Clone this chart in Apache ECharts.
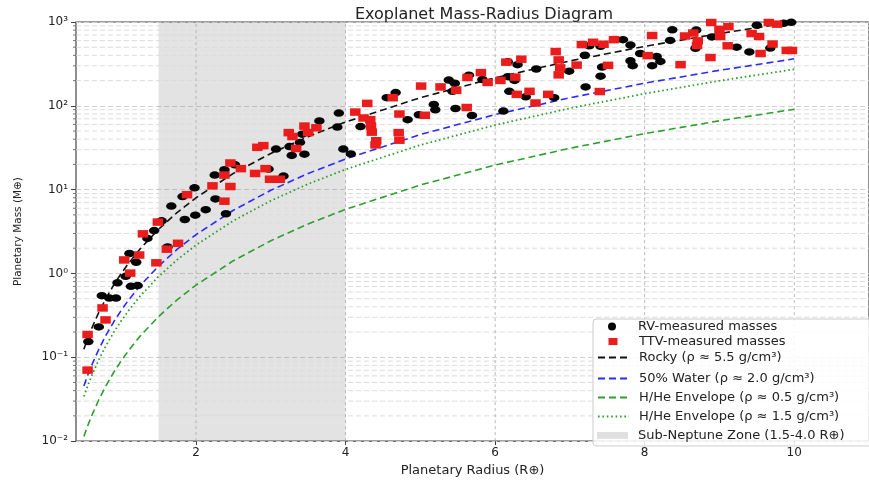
<!DOCTYPE html>
<html>
<head>
<meta charset="utf-8">
<script src="https://cdn.jsdelivr.net/npm/echarts@6/dist/echarts.min.js"></script>
<style>
html,body{margin:0;padding:0;background:#fff;}
#chart{width:869px;height:482px;}
</style>
</head>
<body>
<div id="chart"></div>
<script>
// ---------- data ----------
const xTickValues = [2, 4, 6, 8, 10];
const minorGridValues = [0.02,0.03,0.04,0.05,0.06,0.07,0.08,0.09,
  0.2,0.3,0.4,0.5,0.6,0.7,0.8,0.9,
  2,3,4,5,6,7,8,9,
  20,30,40,50,60,70,80,90,
  200,300,400,500,600,700,800,900];

const modelRadius = [0.5,0.55,0.6,0.7,0.8,0.9,1,1.1,1.25,1.5,1.75,2,2.5,3,3.5,4,5,6,7,8,9,10];
const rockyMass = [0.125,0.166,0.216,0.343,0.512,0.729,1,1.331,1.953,3.375,5.359,8,15.63,27,42.88,64,125,216,343,512,729,1000];
const waterMass = [0.0455,0.0605,0.0785,0.1247,0.1862,0.2651,0.3636,0.484,0.710,1.227,1.949,2.909,5.682,9.818,15.59,23.27,45.45,78.55,124.7,186.2,265.1,363.6];
const hhe05Mass = [0.01136,0.01513,0.01964,0.03118,0.04655,0.06627,0.0909,0.121,0.1776,0.3068,0.4872,0.7273,1.420,2.455,3.898,5.818,11.36,19.64,31.18,46.55,66.27,90.91];
const hhe15Mass = [0.0341,0.0454,0.0589,0.0935,0.1396,0.1988,0.2727,0.363,0.5327,0.9205,1.462,2.182,4.261,7.364,11.69,17.45,34.09,58.91,93.55,139.6,198.8,272.7];

const rvRadius = [0.56,0.70,0.74,0.84,0.93,0.95,1.06,1.13,1.22,1.11,1.20,1.35,1.44,1.54,1.62,1.67,1.85,1.82,1.98,1.99,
  2.13,2.25,2.26,2.38,2.40,2.52,2.97,3.17,3.28,3.07,3.25,3.39,3.42,3.45,3.65,3.89,3.91,3.97,4.07,4.20,
  4.55,4.67,4.83,4.98,5.18,5.20,5.47,5.69,5.38,5.46,5.43,5.65,5.83,6.11,6.19,6.17,6.26,6.30,6.17,6.55,
  6.41,6.79,6.99,7.21,7.20,7.41,7.43,7.26,7.41,7.71,7.81,7.94,7.81,7.84,8.16,8.21,8.10,8.37,8.34,8.69,
  8.68,8.90,9.23,9.40,9.68,9.50,9.86,9.96];
const rvMass = [0.154,0.230,0.543,0.508,0.508,0.774,0.925,0.702,0.716,1.73,1.36,2.62,3.25,4.25,2.07,6.36,4.40,8.26,10.5,4.96,
  5.77,14.9,7.74,17.3,5.16,19.8,17.6,14.5,25.6,30.5,32.6,36.6,45.9,26.5,66.1,55.7,82.0,30.5,26.7,56.5,
  125,144,68.4,78.3,104,89.6,92.9,76.6,203,186,149,232,206,86.5,149,223,201,310,335,275,
  128,125,259,168,401,226,290,520,514,616,531,421,344,301,388,339,301,807,603,800,
  486,664,501,440,488,915,966,990];

const ttvRadius = [0.55,0.55,0.79,0.75,1.04,1.12,1.24,1.47,1.29,1.49,1.61,1.76,1.88,2.22,2.38,2.38,2.46,2.46,2.60,2.82,
  2.90,2.79,2.93,2.99,3.12,3.34,3.24,3.29,3.45,3.50,3.61,4.13,4.29,4.24,4.33,4.34,4.35,4.41,4.40,4.63,
  4.72,4.71,4.72,5.01,5.06,5.27,5.48,5.63,5.81,5.90,6.07,6.15,6.35,6.27,6.29,6.46,6.54,6.71,6.81,6.85,
  6.87,6.85,7.09,7.16,7.31,5.62,7.40,7.51,7.45,7.59,8.10,8.04,8.48,8.54,8.65,8.71,8.70,8.89,8.88,9.00,
  9.01,9.12,9.11,9.43,9.53,9.55,9.71,9.66,9.77,9.90,9.97];
const ttvMass = [0.0703,0.187,0.279,0.388,1.45,1.01,1.66,1.34,2.97,4.10,1.95,2.29,8.71,11.1,7.28,14.9,20.8,10.9,17.8,32.0,
  33.5,15.6,17.8,13.3,13.3,31.0,47.9,43.0,57.3,47.9,54.7,84.2,107,71.6,68.4,57.3,48.5,38.3,34.2,125,
  79.8,47.9,38.9,172,77.1,168,153,218,249,190,201,332,360,220,137,149,108,137,444,353,
  284,234,306,538,573,95.5,148,304,543,616,690,397,310,681,738,595,524,986,377,817,
  671,881,520,728,671,421,546,986,942,458,458];

const zoneRange = [1.5, 4.0];

const names = {
  rv: 'RV-measured masses',
  ttv: 'TTV-measured masses',
  rocky: 'Rocky (ρ ≈ 5.5 g/cm³)',
  water: '50% Water (ρ ≈ 2.0 g/cm³)',
  hhe05: 'H/He Envelope (ρ ≈ 0.5 g/cm³)',
  hhe15: 'H/He Envelope (ρ ≈ 1.5 g/cm³)',
  zone: 'Sub-Neptune Zone (1.5-4.0 R⊕)'
};

// ---------- helpers ----------
const X_MIN = 0.395, X_MAX = 11.0, Y_MIN = 0.01, Y_MAX = 1000;
const zip = (a, b) => a.map((v, i) => [v, b[i]]);
const sup = {'-':'⁻','0':'⁰','1':'¹','2':'²','3':'³','4':'⁴','5':'⁵','6':'⁶','7':'⁷','8':'⁸','9':'⁹'};
const powLabel = e => '10' + String(e).split('').map(c => sup[c]).join('');
const FONT = 'DejaVu Sans';
const LEGEND_FS = 13;

const chart = echarts.init(document.getElementById('chart'), null, {renderer: 'canvas'});

function legendItem(name, cy, opts) {
  return Object.assign({
    data: [{name: name}],
    left: 597, top: cy - 8,
    orient: 'vertical',
    itemWidth: 31, itemHeight: 14,
    padding: 0, itemGap: 0,
    selectedMode: false,
    itemStyle: {opacity: 0},
    textStyle: {fontFamily: FONT, fontSize: LEGEND_FS, color: '#222', padding: [0, 0, 0, 5]},
    z: 10
  }, opts || {});
}

const lineSeries = (name, data, color, type, width) => ({
  name: name, type: 'line', data: zip(modelRadius, data),
  symbol: 'none', showSymbol: false, smooth: false, z: 3,
  lineStyle: {color: color, type: type, width: width},
  itemStyle: {color: color},
  silent: true
});

const gridLineSeries = (name, data, horizontal, color, dash, width) => ({
  name: name, type: 'custom', silent: true, z: 1, clip: true,
  data: data.map(v => [v]),
  renderItem: (params, api) => {
    const v = api.value(0);
    const a = horizontal ? api.coord([X_MIN, v]) : api.coord([v, Y_MIN]);
    const b = horizontal ? api.coord([X_MAX, v]) : api.coord([v, Y_MAX]);
    return {type: 'line', shape: {x1: a[0], y1: a[1], x2: b[0], y2: b[1]},
            style: {stroke: color, lineWidth: width, lineDash: dash}};
  }
});

const option = {
  backgroundColor: '#fff',
  animation: false,
  title: {
    text: 'Exoplanet Mass-Radius Diagram',
    left: 479, top: 2, textAlign: 'center',
    textStyle: {fontFamily: FONT, fontSize: 16, fontWeight: 'normal', color: '#222'}
  },
  grid: {
    left: 76, top: 22, width: 806, bottom: 32,
    show: true, borderColor: '#444', borderWidth: 1.2, backgroundColor: 'transparent'
  },
  xAxis: {
    type: 'value', min: X_MIN, max: X_MAX,
    name: 'Planetary Radius (R⊕)', nameLocation: 'middle', nameGap: 17,
    nameTextStyle: {fontFamily: FONT, fontSize: 13, color: '#222'},
    axisLine: {show: false},
    axisTick: {show: true, length: 4, lineStyle: {color: '#444'}, customValues: xTickValues},
    axisLabel: {fontFamily: FONT, fontSize: 12, color: '#222', margin: 6, customValues: xTickValues},
    splitLine: {show: false}
  },
  yAxis: {
    type: 'log', logBase: 10, min: Y_MIN, max: Y_MAX,
    name: 'Planetary Mass (M⊕)', nameLocation: 'middle', nameGap: 52,
    nameTextStyle: {fontFamily: FONT, fontSize: 10.5, color: '#222'},
    axisLine: {show: false},
    axisTick: {show: true, length: 5, lineStyle: {color: '#444'}},
    axisLabel: {
      fontFamily: FONT, fontSize: 12, color: '#222', margin: 8,
      formatter: v => powLabel(Math.round(Math.log10(v)))
    },
    splitLine: {show: true, lineStyle: {color: '#cfcfcf', type: [5, 3], width: 1}}
  },
  legend: [
    legendItem(names.rv, 328, {left: 608, itemWidth: 10, itemHeight: 8, icon: 'circle', symbolKeepAspect: false,
      itemStyle: {}, textStyle: {fontFamily: FONT, fontSize: LEGEND_FS, color: '#222', padding: [0, 0, 0, 16]}}),
    legendItem(names.ttv, 343, {left: 608.5, itemWidth: 9, itemHeight: 7, icon: 'rect', symbolKeepAspect: false,
      itemStyle: {}, textStyle: {fontFamily: FONT, fontSize: LEGEND_FS, color: '#222', padding: [0, 0, 0, 16.5]}}),
    legendItem(names.rocky, 359),
    legendItem(names.water, 380),
    legendItem(names.hhe05, 399),
    legendItem(names.hhe15, 418),
    legendItem(names.zone, 437, {icon: 'rect', itemHeight: 7, symbolKeepAspect: false, itemStyle: {}})
  ],
  graphic: [{
    type: 'rect', z: 9,
    shape: {x: 593, y: 319, width: 300, height: 127, r: 3},
    style: {fill: 'rgba(255,255,255,0.85)', stroke: '#cccccc', lineWidth: 1}
  }],
  series: [
    gridLineSeries('minor-grid', minorGridValues, true, '#dcdcdc', [5, 3], 1),
    gridLineSeries('x-grid', xTickValues, false, '#a8a8a8', [3, 3], 0.8),
    { // minor ticks on y axis
      name: 'minor-ticks', type: 'custom', clip: false, silent: true, z: 1,
      data: minorGridValues.map(v => [X_MIN, v]),
      renderItem: (params, api) => {
        const p = api.coord([api.value(0), api.value(1)]);
        return {type: 'line', shape: {x1: p[0] - 3, y1: p[1], x2: p[0], y2: p[1]},
                style: {stroke: '#555', lineWidth: 0.8}};
      }
    },
    { // sub-neptune zone
      name: names.zone, type: 'line', data: [], symbol: 'none', z: 1,
      itemStyle: {color: '#e0e0e0'}, lineStyle: {opacity: 0},
      markArea: {
        silent: true,
        itemStyle: {color: 'rgba(128,128,128,0.22)'},
        data: [[{xAxis: zoneRange[0]}, {xAxis: zoneRange[1]}]]
      }
    },
    lineSeries(names.rocky, rockyMass, '#111111', [7, 4], 1.6),
    lineSeries(names.water, waterMass, '#2b2bff', [7, 4], 1.6),
    lineSeries(names.hhe05, hhe05Mass, '#2e9e2e', [7, 4], 1.6),
    lineSeries(names.hhe15, hhe15Mass, '#2e9e2e', [1.6, 2.8], 1.8),
    {
      name: names.rv, type: 'scatter', data: zip(rvRadius, rvMass),
      symbol: 'circle', symbolSize: [10.5, 7.5], z: 4, silent: true,
      itemStyle: {color: '#050505', opacity: 1}
    },
    {
      name: names.ttv, type: 'scatter', data: zip(ttvRadius, ttvMass),
      symbol: 'rect', symbolSize: [10.5, 7.5], z: 4, silent: true,
      itemStyle: {color: '#ea1c1c', opacity: 1}
    }
  ]
};

chart.setOption(option);
</script>
</body>
</html>
